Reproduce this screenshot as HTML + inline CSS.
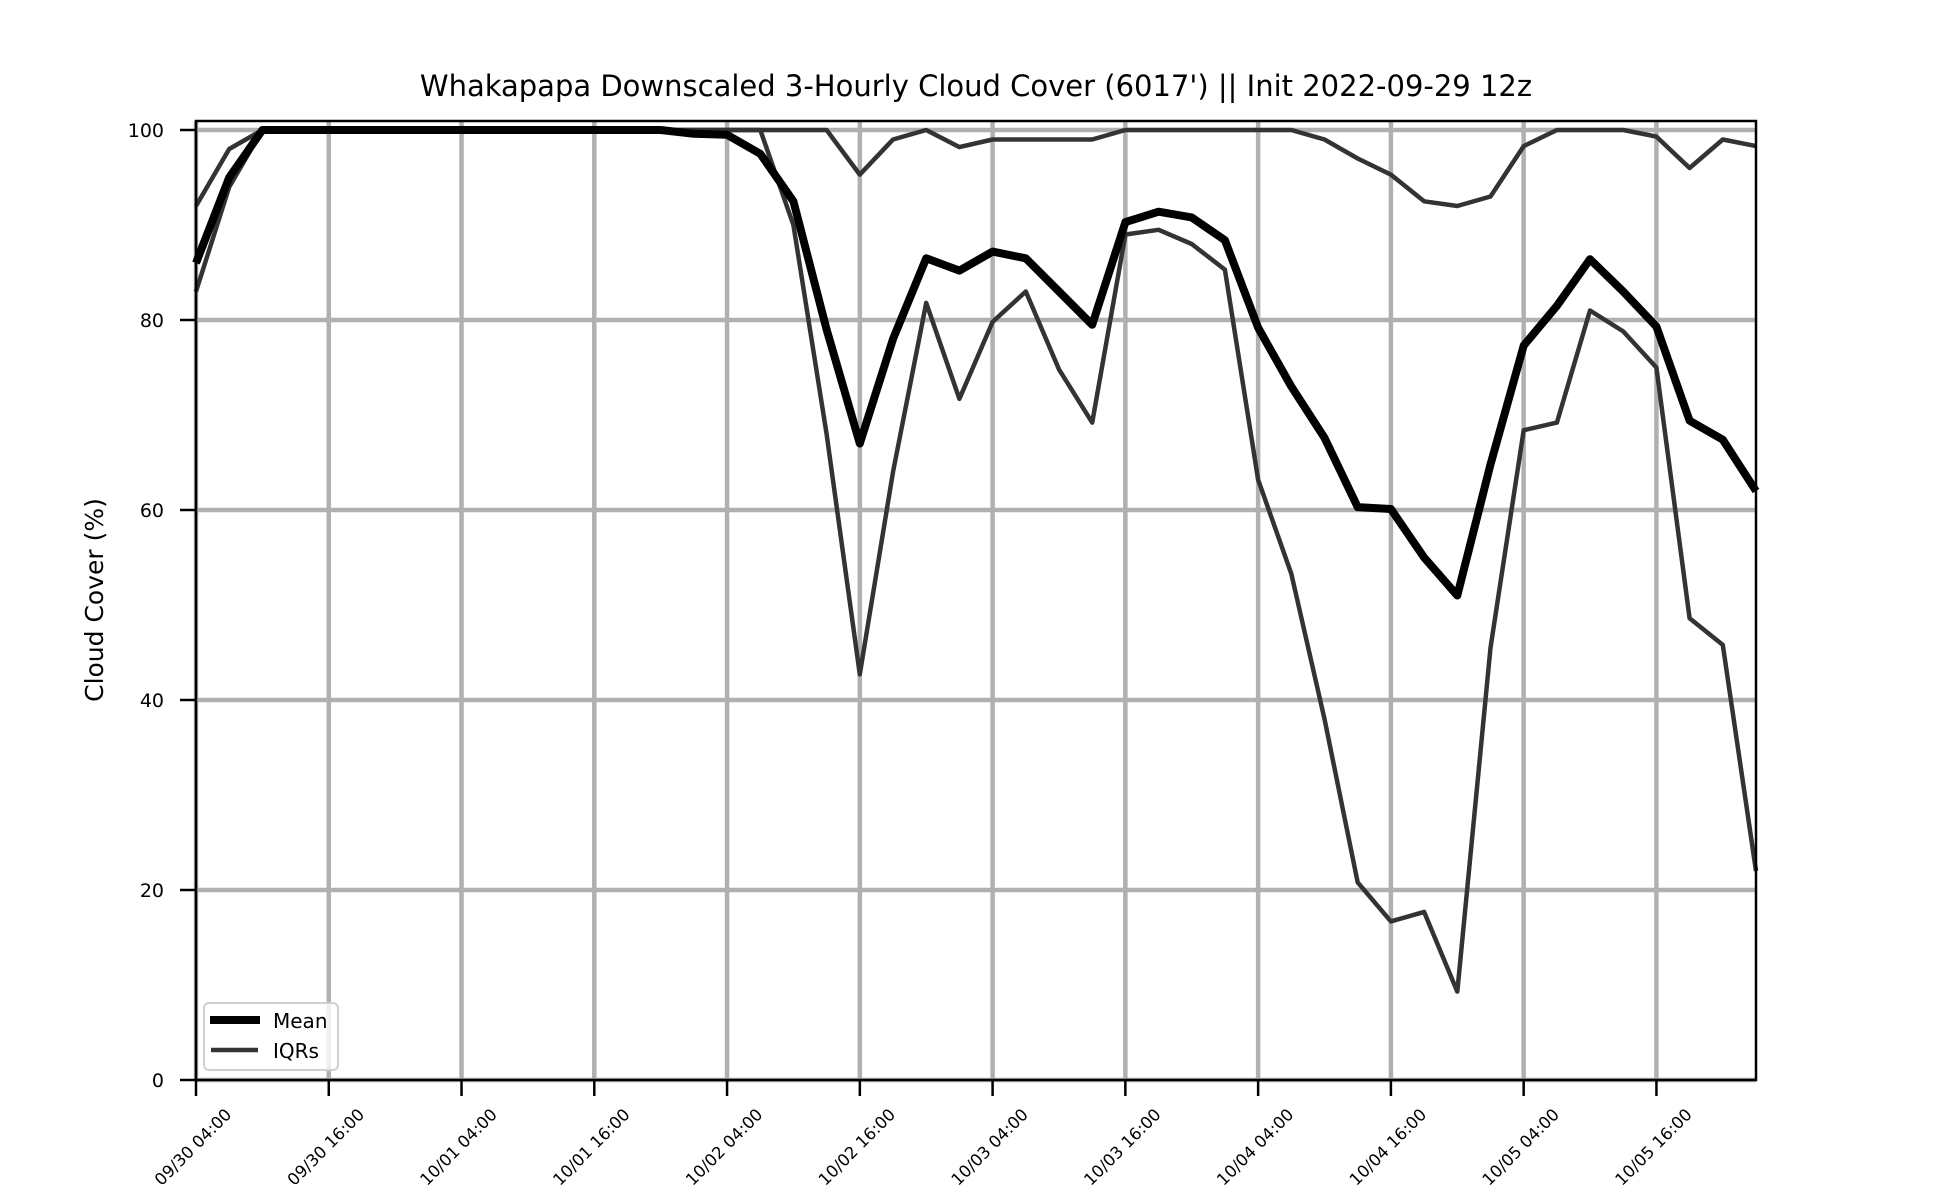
<!DOCTYPE html>
<html><head><meta charset="utf-8"><style>
html,body{margin:0;padding:0;background:#fff;}
svg{display:block;font-family:"DejaVu Sans","Liberation Sans",sans-serif;}
</style></head><body>
<svg id="chart" width="1950" height="1200" viewBox="0 0 1950 1200">
<rect width="1950" height="1200" fill="#fff"/>
<text x="976" y="96" text-anchor="middle" font-size="29" fill="#000">Whakapapa Downscaled 3-Hourly Cloud Cover (6017') || Init 2022-09-29 12z</text>
<g id="grid"></g>
<g id="series"></g>
<rect x="196" y="121" width="1560" height="959" fill="none" stroke="#000" stroke-width="2.5"/>
<g id="axes"></g>
<text transform="translate(103,600) rotate(-90)" text-anchor="middle" font-size="25" fill="#000">Cloud Cover (%)</text>
<g>
<rect x="204" y="1003" width="134" height="67" rx="5" fill="#fff" fill-opacity="0.8" stroke="#d0d0d0" stroke-width="2"/>
<line x1="210" y1="1020" x2="260" y2="1020" stroke="#000" stroke-width="8"/>
<text x="273" y="1028" font-size="20">Mean</text>
<line x1="211" y1="1050" x2="258" y2="1050" stroke="#333" stroke-width="4.5"/>
<text x="273" y="1058" font-size="20">IQRs</text>
</g>
</svg>
<script>
const meanValues=[86,95,100,100,100,100,100,100,100,100,100,100,100,100,100,99.6,99.5,97.5,92.5,79,67,78,86.5,85.2,87.2,86.5,83,79.5,90.3,91.4,90.8,88.4,79.2,73,67.6,60.3,60.1,55,51,64.8,77.3,81.5,86.4,83,79.3,69.4,67.4,62];
const upperIQR=[92,98,100,100,100,100,100,100,100,100,100,100,100,100,100,100,100,100,100,100,95.3,99,100,98.2,99,99,99,99,100,100,100,100,100,100,99,97,95.3,92.5,92,93,98.3,100,100,100,99.3,96,99,98.3];
const lowerIQR=[83,94,100,100,100,100,100,100,100,100,100,100,100,100,100,100,100,100,90,68,42.7,64,81.8,71.7,79.8,83,74.8,69.2,89,89.5,88,85.3,63.2,53.3,38,20.8,16.7,17.7,9.3,45.5,68.4,69.2,81,78.8,75,48.6,45.8,22];
const yTicks=[0,20,40,60,80,100];
const xTickLabels=["09/30 04:00","09/30 16:00","10/01 04:00","10/01 16:00","10/02 04:00","10/02 16:00","10/03 04:00","10/03 16:00","10/04 04:00","10/04 16:00","10/05 04:00","10/05 16:00"];
const xTickIndex=[0,4,8,12,16,20,24,28,32,36,40,44];

const NS="http://www.w3.org/2000/svg";
const X0=196,X1=1756,Y0=1080,YPER=9.5;
const N=meanValues.length;
function xs(i){return X0+(X1-X0)*i/(N-1);}
function ys(v){return Y0-v*YPER;}
function mk(tag,attrs,parent){const e=document.createElementNS(NS,tag);for(const k in attrs)e.setAttribute(k,attrs[k]);parent.appendChild(e);return e;}
const grid=document.getElementById('grid'),axes=document.getElementById('axes'),series=document.getElementById('series');
yTicks.forEach(t=>{
  const l=mk('line',{x1:X0,x2:X1,y1:ys(t),y2:ys(t),stroke:'#b0b0b0','stroke-width':4.5},grid);
  
  
  const tk=mk('line',{x1:X0-16,x2:X0,y1:ys(t),y2:ys(t),stroke:'#000','stroke-width':2.5},axes);
  
  
  const tx=mk('text',{x:X0-32,y:ys(t)+7,'text-anchor':'end','font-size':19},axes);
  tx.textContent=t;
  
  
});
xTickIndex.forEach((idx,k)=>{
  const x=xs(idx);
  const l=mk('line',{x1:x,x2:x,y1:121,y2:Y0,stroke:'#b0b0b0','stroke-width':4.5},grid);
  
  
  const tk=mk('line',{x1:x,x2:x,y1:Y0,y2:Y0+16,stroke:'#000','stroke-width':2.5},axes);
  
  
  const tx=mk('text',{transform:`translate(${x+1},1151) rotate(-45)`,'text-anchor':'middle','font-size':16.5},axes);
  tx.textContent=xTickLabels[k];
  
  
});
function pts(arr){return arr.map((v,i)=>xs(i).toFixed(1)+','+ys(v).toFixed(1)).join(' ');}
const up=mk('polyline',{points:pts(upperIQR),fill:'none',stroke:'#333','stroke-width':4.5,'stroke-linejoin':'round'},series);


const lo=mk('polyline',{points:pts(lowerIQR),fill:'none',stroke:'#333','stroke-width':4.5,'stroke-linejoin':'round'},series);


const mn=mk('polyline',{points:pts(meanValues),fill:'none',stroke:'#000','stroke-width':8,'stroke-linejoin':'round'},series);


</script>
</body></html>
